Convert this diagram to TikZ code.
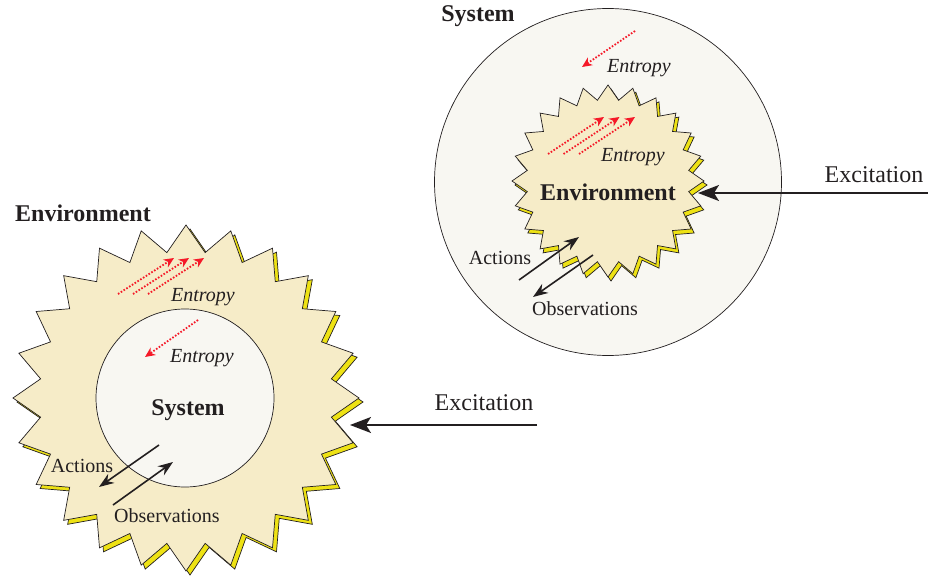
\documentclass[tikz,border=0pt]{standalone}
\usepackage{fontspec}
\setmainfont{Liberation Serif}
\usetikzlibrary{shapes.geometric,arrows.meta}

\definecolor{burst}{RGB}{246,236,200}
\definecolor{burstshade}{RGB}{238,226,20}
\definecolor{sysfill}{RGB}{248,247,242}
\definecolor{entred}{RGB}{245,25,40}
\definecolor{ink}{RGB}{35,31,32}

\tikzset{
  envstar/.style={star, star points=24, star point ratio=1.18, draw=ink,
    line width=0.7pt, fill=burst, inner sep=0pt},
  envshade/.style={envstar, fill=burstshade},
  sysdisc/.style={circle, draw=ink, line width=0.7pt, fill=sysfill, inner sep=0pt},
  biglabel/.style={text=ink, font=\fontsize{24}{28}\selectfont\bfseries},
  plainlabel/.style={text=ink, font=\fontsize{20}{24}\selectfont},
  excitelabel/.style={text=ink, font=\fontsize{24}{28}\selectfont},
  entlabel/.style={text=ink, font=\fontsize{20}{24}\selectfont\itshape},
  entflow/.style={draw=entred, line width=1.8pt, dash pattern=on 1.6pt off 1.7pt,
    -{Stealth[length=10pt,width=9pt,inset=3pt,fill=entred]}},
  ioarrow/.style={draw=ink, line width=1.6pt, -{Stealth[length=15pt,width=11pt]}},
  excite/.style={draw=ink, line width=1.6pt, -{Stealth[length=21pt,width=16pt,inset=5pt]}}
}

\begin{document}
\begin{tikzpicture}[x=1pt, y=-1pt]
    \useasboundingbox (0,0) rectangle (928,577);

    % ---- left: system inside the environment ----
    \node[envshade, minimum size=346pt] (envLshade) at (190,402) {};
    \node[envstar, minimum size=346pt] (envL) at (186,398) {};
    \node[sysdisc, minimum size=178pt] (sysL) at (185,398) {};

    \node[biglabel] (envLlabel) at (83,213) {Environment};
    \node[biglabel] (sysLlabel) at (188,410) {System};

    % entropy flowing out to the surroundings
    \foreach \k in {0,1,2} {
        \coordinate (eoutL\k a) at (118+15*\k,294);
        \coordinate (eoutL\k b) at (174+15*\k,258);
        \draw[entflow] (eoutL\k a) -- (eoutL\k b);
    }
    \node[entlabel] (entLout) at (203,297) {Entropy};

    % entropy flowing into the system
    \coordinate (einL a) at (198,320);
    \coordinate (einL b) at (145,357);
    \draw[entflow] (einL a) -- (einL b);
    \node[entlabel] (entLin) at (202,358) {Entropy};

    % actions and observations
    \coordinate (actLa) at (159,445);
    \coordinate (actLb) at (99,487);
    \coordinate (obsLa) at (113,505);
    \coordinate (obsLb) at (173,462);
    \draw[ioarrow] (actLa) -- (actLb);
    \draw[ioarrow] (obsLa) -- (obsLb);
    \node[plainlabel] (actL) at (82,466) {Actions};
    \node[plainlabel] (obsL) at (167,516) {Observations};

    % excitation
    \coordinate (excLa) at (537,425);
    \coordinate (excLb) at (350,425);
    \draw[excite] (excLa) -- (excLb);
    \node[excitelabel] (excL) at (484,403) {Excitation};

    % ---- right: environment inside the system ----
    \node[sysdisc, minimum size=347pt] (sysR) at (608,182) {};
    \node[envshade, minimum size=192pt] (envRshade) at (611,185) {};
    \node[envstar, minimum size=192pt] (envR) at (608,181) {};

    \node[biglabel] (sysRlabel) at (478,16) {System};
    \node[biglabel] (envRlabel) at (608,192) {Environment};

    % entropy flowing into the system
    \coordinate (einR a) at (635,31);
    \coordinate (einR b) at (582,67);
    \draw[entflow] (einR a) -- (einR b);
    \node[entlabel] (entRin) at (639,68) {Entropy};

    % entropy flowing out of the environment
    \foreach \k in {0,1,2} {
        \coordinate (eoutR\k a) at (548+15.5*\k,154);
        \coordinate (eoutR\k b) at (604+15.5*\k,117);
        \draw[entflow] (eoutR\k a) -- (eoutR\k b);
    }
    \node[entlabel] (entRout) at (633,157) {Entropy};

    % actions and observations
    \coordinate (actRa) at (519,280);
    \coordinate (actRb) at (579,237);
    \coordinate (obsRa) at (593,255);
    \coordinate (obsRb) at (533,297);
    \draw[ioarrow] (actRa) -- (actRb);
    \draw[ioarrow] (obsRa) -- (obsRb);
    \node[plainlabel] (actR) at (500,258) {Actions};
    \node[plainlabel] (obsR) at (585,309) {Observations};

    % excitation
    \coordinate (excRa) at (928,193);
    \coordinate (excRb) at (698,193);
    \draw[excite] (excRa) -- (excRb);
    \node[excitelabel] (excR) at (874,175) {Excitation};
\end{tikzpicture}
\end{document}
